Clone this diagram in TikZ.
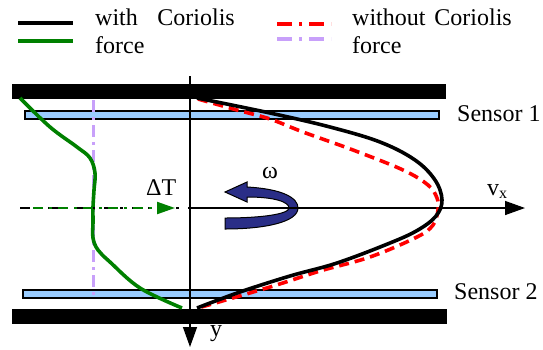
\documentclass[tikz,border=0pt]{standalone}
\usepackage{fontspec}
\setmainfont{Liberation Serif}
\usetikzlibrary{arrows.meta}
\definecolor{sensorblue}{RGB}{153,204,255}
\definecolor{lav}{RGB}{200,160,250}
\definecolor{dgreen}{RGB}{0,128,0}
\definecolor{navy}{RGB}{42,46,135}
\tikzset{
  lbl/.style={inner sep=0pt, font=\fontsize{24}{28}\selectfont},
  wall/.style={fill=black, draw=black},
  sensorbar/.style={fill=sensorblue, draw=black, line width=1.3pt},
  withc/.style={line width=3.6pt, black},
  withoutc/.style={line width=3.6pt, red, dash pattern=on 10pt off 6pt},
  greenc/.style={line width=3.6pt, dgreen},
  lavc/.style={line width=3pt, lav, dash pattern=on 12pt off 5pt on 3pt off 5pt},
  dashdot/.style={line width=2.5pt, dash pattern=on 10pt off 6pt on 3pt off 9pt},
  axis/.style={line width=1.4pt, -{Triangle[length=20pt,width=14pt]}},
}
\begin{document}
\begin{tikzpicture}[x=1pt,y=-1pt]
\useasboundingbox (0,0) rectangle (543,349);
% legend
\coordinate (l1a) at (18,23); \coordinate (l1b) at (73,23);
\coordinate (l2a) at (18,41); \coordinate (l2b) at (73,41);
\coordinate (l3a) at (277,24); \coordinate (l3b) at (331,24);
\coordinate (l4a) at (277,39); \coordinate (l4b) at (331,39);
\draw[line width=3.5pt] (l1a) -- (l1b);
\draw[line width=3.5pt, dgreen] (l2a) -- (l2b);
\draw[line width=3.5pt, red, dash pattern=on 15pt off 7pt on 3pt off 7pt] (l3a) -- (l3b);
\draw[line width=3.5pt, lav, dash pattern=on 15pt off 7pt on 3pt off 7pt] (l4a) -- (l4b);
\node[lbl, anchor=base west] (t1) at (95,25) {with};
\node[lbl, anchor=base east] (t2) at (235,25) {Coriolis};
\node[lbl, anchor=base west] (t3) at (95,53) {force};
\node[lbl, anchor=base west] (t4) at (352,25) {without};
\node[lbl, anchor=base east] (t5) at (512,25) {Coriolis};
\node[lbl, anchor=base west] (t6) at (352,53) {force};
% walls and sensors
\draw[wall] (12,84) rectangle (445,98);
\draw[wall] (12,309) rectangle (446,323);
\draw[sensorbar] (25,111) rectangle (439,119);
\draw[sensorbar] (23,290) rectangle (437,298);
\node[lbl, anchor=base west] (s1) at (457,121) {Sensor 1};
\node[lbl, anchor=base west] (s2) at (454,299) {Sensor 2};
% lavender reference line
\coordinate (lvt) at (93,100); \coordinate (lvb) at (93,298);
\draw[lavc] (lvt) -- (lvb);
% green profile
\draw[greenc] plot[smooth, tension=0.6] coordinates {(20,98) (50,127) (77,147) (90,158) (95,173) (94,190) (93,207) (93,222) (93,238) (98,250) (110,262) (140,288) (182,308)};
% omega arrow
\draw[fill=navy, draw=black, line width=1pt] (247,187) .. controls (283,189) and (298,198) .. (298,208) .. controls (298,222) and (265,229) .. (225,229) -- (225,218) .. controls (262,218) and (289,214) .. (289,208) .. controls (289,202) and (275,197) .. (247,197) -- (247,202) -- (225,192) -- (247,182) -- cycle;
\node[lbl, anchor=base] (om) at (270,178) {ω};
% axes
\coordinate (o) at (190,208);
\coordinate (vtop) at (190,76);
\coordinate (vbot) at (190,347);
\coordinate (hend) at (525,208);
\coordinate (dl) at (20,208); \coordinate (dr) at (452,208);
\draw[axis] (vtop) -- (vbot);
\draw[axis] (o) -- (hend);
\draw[dashdot] (dl) -- (dr);
% green Delta T arrow
\coordinate (ga) at (33,208); \coordinate (gb) at (175,208);
\draw[line width=2.2pt, dgreen, dash pattern=on 10pt off 6pt on 3pt off 6pt, -{Triangle[length=18pt,width=12pt]}] (ga) -- (gb);
\node[lbl, anchor=base west] (dT) at (146,195) {ΔT};
% velocity profiles
\draw[withoutc] plot[smooth, tension=0.6] coordinates {(198,99) (237,110) (270,119) (303,132) (353,150) (403,170) (428,185) (437,198) (438,210) (433,225) (417,237) (370,257) (320,271) (270,287) (198,308)};
\draw[withc] plot[smooth, tension=0.6] coordinates {(197,98) (270,113) (330,127) (380,142) (415,160) (435,180) (442,200) (436,216) (418,230) (390,243) (337,263) (290,276) (240,292) (197,308)};
% axis labels
\node[lbl, anchor=base west] (vx) at (487,195) {v\raisebox{-0.35ex}{\fontsize{16}{16}\selectfont x}};
\node[lbl, anchor=base west] (yl) at (210,336) {y};
\end{tikzpicture}
\end{document}
